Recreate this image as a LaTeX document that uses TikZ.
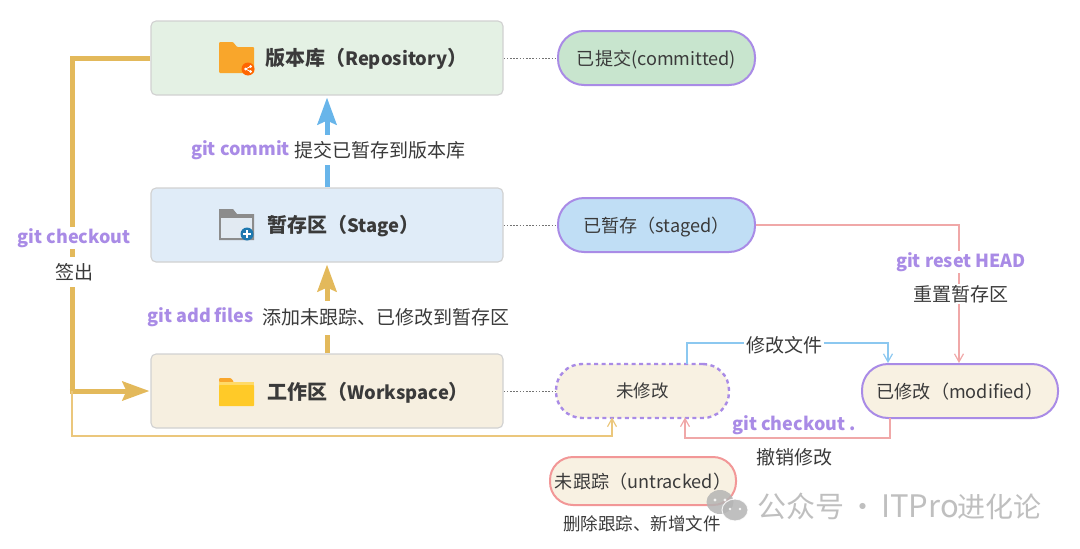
\documentclass[tikz,border=0pt]{standalone}
\usepackage{fontspec}
\setmainfont{Noto Sans CJK SC}
\usetikzlibrary{arrows.meta,calc}
\definecolor{purp}{HTML}{A98BE6}
\definecolor{gold}{HTML}{E3B95B}
\definecolor{lgold}{HTML}{EBC77C}
\definecolor{sky}{HTML}{68B5EA}
\definecolor{lsky}{HTML}{8CC8F0}
\definecolor{rose}{HTML}{F0A8A8}
\definecolor{ink}{HTML}{3A3A3A}
\definecolor{wm}{HTML}{B4B4B4}
\definecolor{folderor}{HTML}{F9A62B}
\definecolor{foldery}{HTML}{FFCA28}
\definecolor{creamfill}{HTML}{F8F1E2}
\newcommand{\latn}[1]{{\fontsize{18.4}{24}\selectfont #1}}
\tikzset{
  areabox/.style={draw=black!18,line width=1.1pt,rounded corners=5pt,minimum width=352pt,minimum height=74pt,inner sep=0pt},
  pill/.style={draw=purp,line width=2pt,rounded corners=26pt,minimum height=54pt,inner sep=0pt,text=ink,text height=14pt,text depth=0pt,font=\fontsize{18.1}{21}\selectfont},
  areatitle/.style={anchor=west,text=ink,inner sep=0pt,yshift=-1pt,font=\fontsize{20}{24}\selectfont\bfseries},
  cmd/.style={text=purp,inner sep=0pt,yshift=-2pt,font=\fontsize{18}{21}\selectfont\bfseries},
  desc/.style={text=ink,inner sep=0pt,yshift=-2pt,font=\fontsize{19}{22}\selectfont},
  masked/.style={fill=white,inner xsep=2pt,inner ysep=1pt},
  dots/.style={draw=black!55,line width=.9pt,dash pattern=on 1.6pt off 1.6pt},
  fatarrow/.style={line width=5pt,-{Stealth[length=27pt,width=19pt,inset=4pt]}},
  fatline/.style={line width=5pt},
  thinarrow/.style={line width=1.2pt,-{Straight Barb[length=8pt,width=9pt]}},
}
\begin{document}
\begin{tikzpicture}[x=1pt,y=-1pt]
\useasboundingbox (0,0) rectangle (1080,549);
% area boxes
\node[areabox,fill={rgb,255:red,228;green,241;blue,228}] (repo) at (327,58) {};
\node[areabox,fill={rgb,255:red,224;green,236;blue,248}] (stage) at (327,225) {};
\node[areabox,fill={rgb,255:red,246;green,239;blue,224}] (work) at (327,391) {};
\node[areatitle] (repot) at (265,58) {版本库（\latn{Repository}）};
\node[areatitle] (staget) at (267,225) {暂存区（\latn{Stage}）};
\node[areatitle] (workt) at (267,391.5) {工作区（\latn{Workspace}）};
% state pills
\node[pill,fill={rgb,255:red,200;green,229;blue,206},minimum width=197pt] (committed) at (656.5,58) {已提交(committed)};
\node[pill,fill={rgb,255:red,192;green,222;blue,245},minimum width=197pt] (staged) at (656.5,225) {已暂存（staged）};
\node[pill,fill=creamfill,minimum width=173pt,draw=purp,line width=2.4pt,dash pattern=on 4pt off 3.5pt,text height=13pt,font=\fontsize{17.5}{20}\selectfont] (unmod) at (642.5,391) {未修改};
\node[pill,fill=creamfill,minimum width=196pt] (modif) at (960,391) {已修改（modified）};
\node[pill,draw=rose!90!red,fill=creamfill,minimum width=186pt,minimum height=48pt,rounded corners=23pt] (untrk) at (643,481) {未跟踪（untracked）};
% free coordinates
\coordinate (cotop) at (72,58);
\coordinate (cotee) at (72,391);
\coordinate (cobot) at (72,436);
\coordinate (cotarget) at (612,417.5);
\coordinate (revert) at (685,417.5);
\coordinate (editout) at (687,364);
\coordinate (editin) at (888,363);
\coordinate (resetin) at (959,363);
\coordinate (revertout) at (890,418);
% dotted links
\draw[dots] (repo.east) -- (committed.west);
\draw[dots] (stage.east) -- (staged.west);
\draw[dots] (work.east) -- (unmod.west);
% main flow
\draw[fatarrow,color=sky] (stage.north) -- ($(repo.south)+(0,2)$);
\draw[fatarrow,color=gold] (work.north) -- ($(stage.south)+(0,2)$);
\draw[fatline,color=gold,line cap=butt] (repo.west) -- (cotop) -- (cotee);
\draw[fatarrow,color=gold] ($(cotee)+(-2.5,0)$) -- ($(work.west)+(-1,0)$);
\draw[line width=1.2pt,color=lgold,-{Straight Barb[length=8pt,width=9pt]}] (cotee) -- (cobot) -| (cotarget);
% thin state links
\draw[thinarrow,color=rose] (staged.east) -| (resetin);
\draw[thinarrow,color=lsky] (editout) |- (800,343) -| (editin);
\draw[thinarrow,color=rose] (revertout) |- (800,438) -| (revert);
% labels
\node[cmd,masked,anchor=east,minimum height=30pt] (lc1) at (292,148) {git commit};
\node[desc,masked,anchor=west,minimum height=30pt] (lc2) at (292,148) {提交已暂存到版本库};
\node[cmd,masked,anchor=east,minimum height=34pt] (la1) at (256,315.5) {git add files};
\node[desc,masked,anchor=west,minimum height=34pt] (la2) at (260,315.5) {添加未跟踪、已修改到暂存区};
\node[cmd,masked,minimum width=116pt] (lk1) at (74,236) {git checkout};
\node[desc,masked,minimum width=40pt,minimum height=30pt] (lk2) at (74,270) {签出};
\node[cmd,masked] (lr1) at (961,260) {git reset HEAD};
\node[desc,masked] (lr2) at (961,292) {重置暂存区};
\node[desc,masked] (le) at (784,343) {修改文件};
\node[cmd,masked] (lu1) at (794,423) {git checkout .};
\node[desc,masked] (lu2) at (794,455) {撤销修改};
\node[text=ink,inner sep=0pt,yshift=-2pt,font=\fontsize{17.5}{20}\selectfont] (ld) at (642,522) {删除跟踪、新增文件};
% repo icon
\fill[rounded corners=1pt,color=folderor] (219,42) -- (233,42) -- (237,47) -- (254,47) -- (254,73) -- (219,73) -- cycle;
\fill[color=orange!80!red] (248,69) circle (6.5pt);
\fill[white] (245.5,69) circle (1.5pt) (250.5,66.5) circle (1.5pt) (250.5,71.5) circle (1.5pt);
\draw[white,line width=.7pt] (250.5,66.5) -- (245.5,69) -- (250.5,71.5);
% stage icon
\fill[color=black!45] (219,209) -- (233,209) -- (237,214) -- (254,214) -- (254,240) -- (219,240) -- cycle;
\fill[color={rgb,255:red,226;green,234;blue,242}] (221,218) rectangle (252,237.5);
\fill[color={rgb,255:red,30;green,120;blue,175}] (247,234) circle (6.5pt);
\draw[white,line width=1.4pt] (243,234) -- (251,234) (247,230) -- (247,238);
% workspace icon
\fill[color=folderor,rounded corners=1pt] (219,378) -- (231,378) -- (234,382) -- (219,382) -- cycle;
\fill[color=foldery!70!white] (219,382) rectangle (254,385);
\fill[color=foldery,rounded corners=.7pt] (219,385) rectangle (254,406);
% watermark
\begin{scope}[opacity=.85]
\fill[wm] (720,502) ellipse (13.5pt and 12pt);
\draw[white,line width=1pt,fill=wm] (735,510) ellipse (13pt and 11pt);
\fill[white] (715,500) circle (1.6pt) (725,500) circle (1.6pt) (730,509) circle (1.4pt) (740,509) circle (1.4pt);
\node[text=wm,inner sep=0pt,anchor=west,font=\fontsize{29}{34}\selectfont] (wmark) at (757,506) {公众号\hspace{4pt}·\hspace{4pt}{\fontsize{31}{34}\selectfont ITPro}\hspace{-1pt}{\fontsize{28}{34}\selectfont 进化论}};
\end{scope}
\end{tikzpicture}
\end{document}
